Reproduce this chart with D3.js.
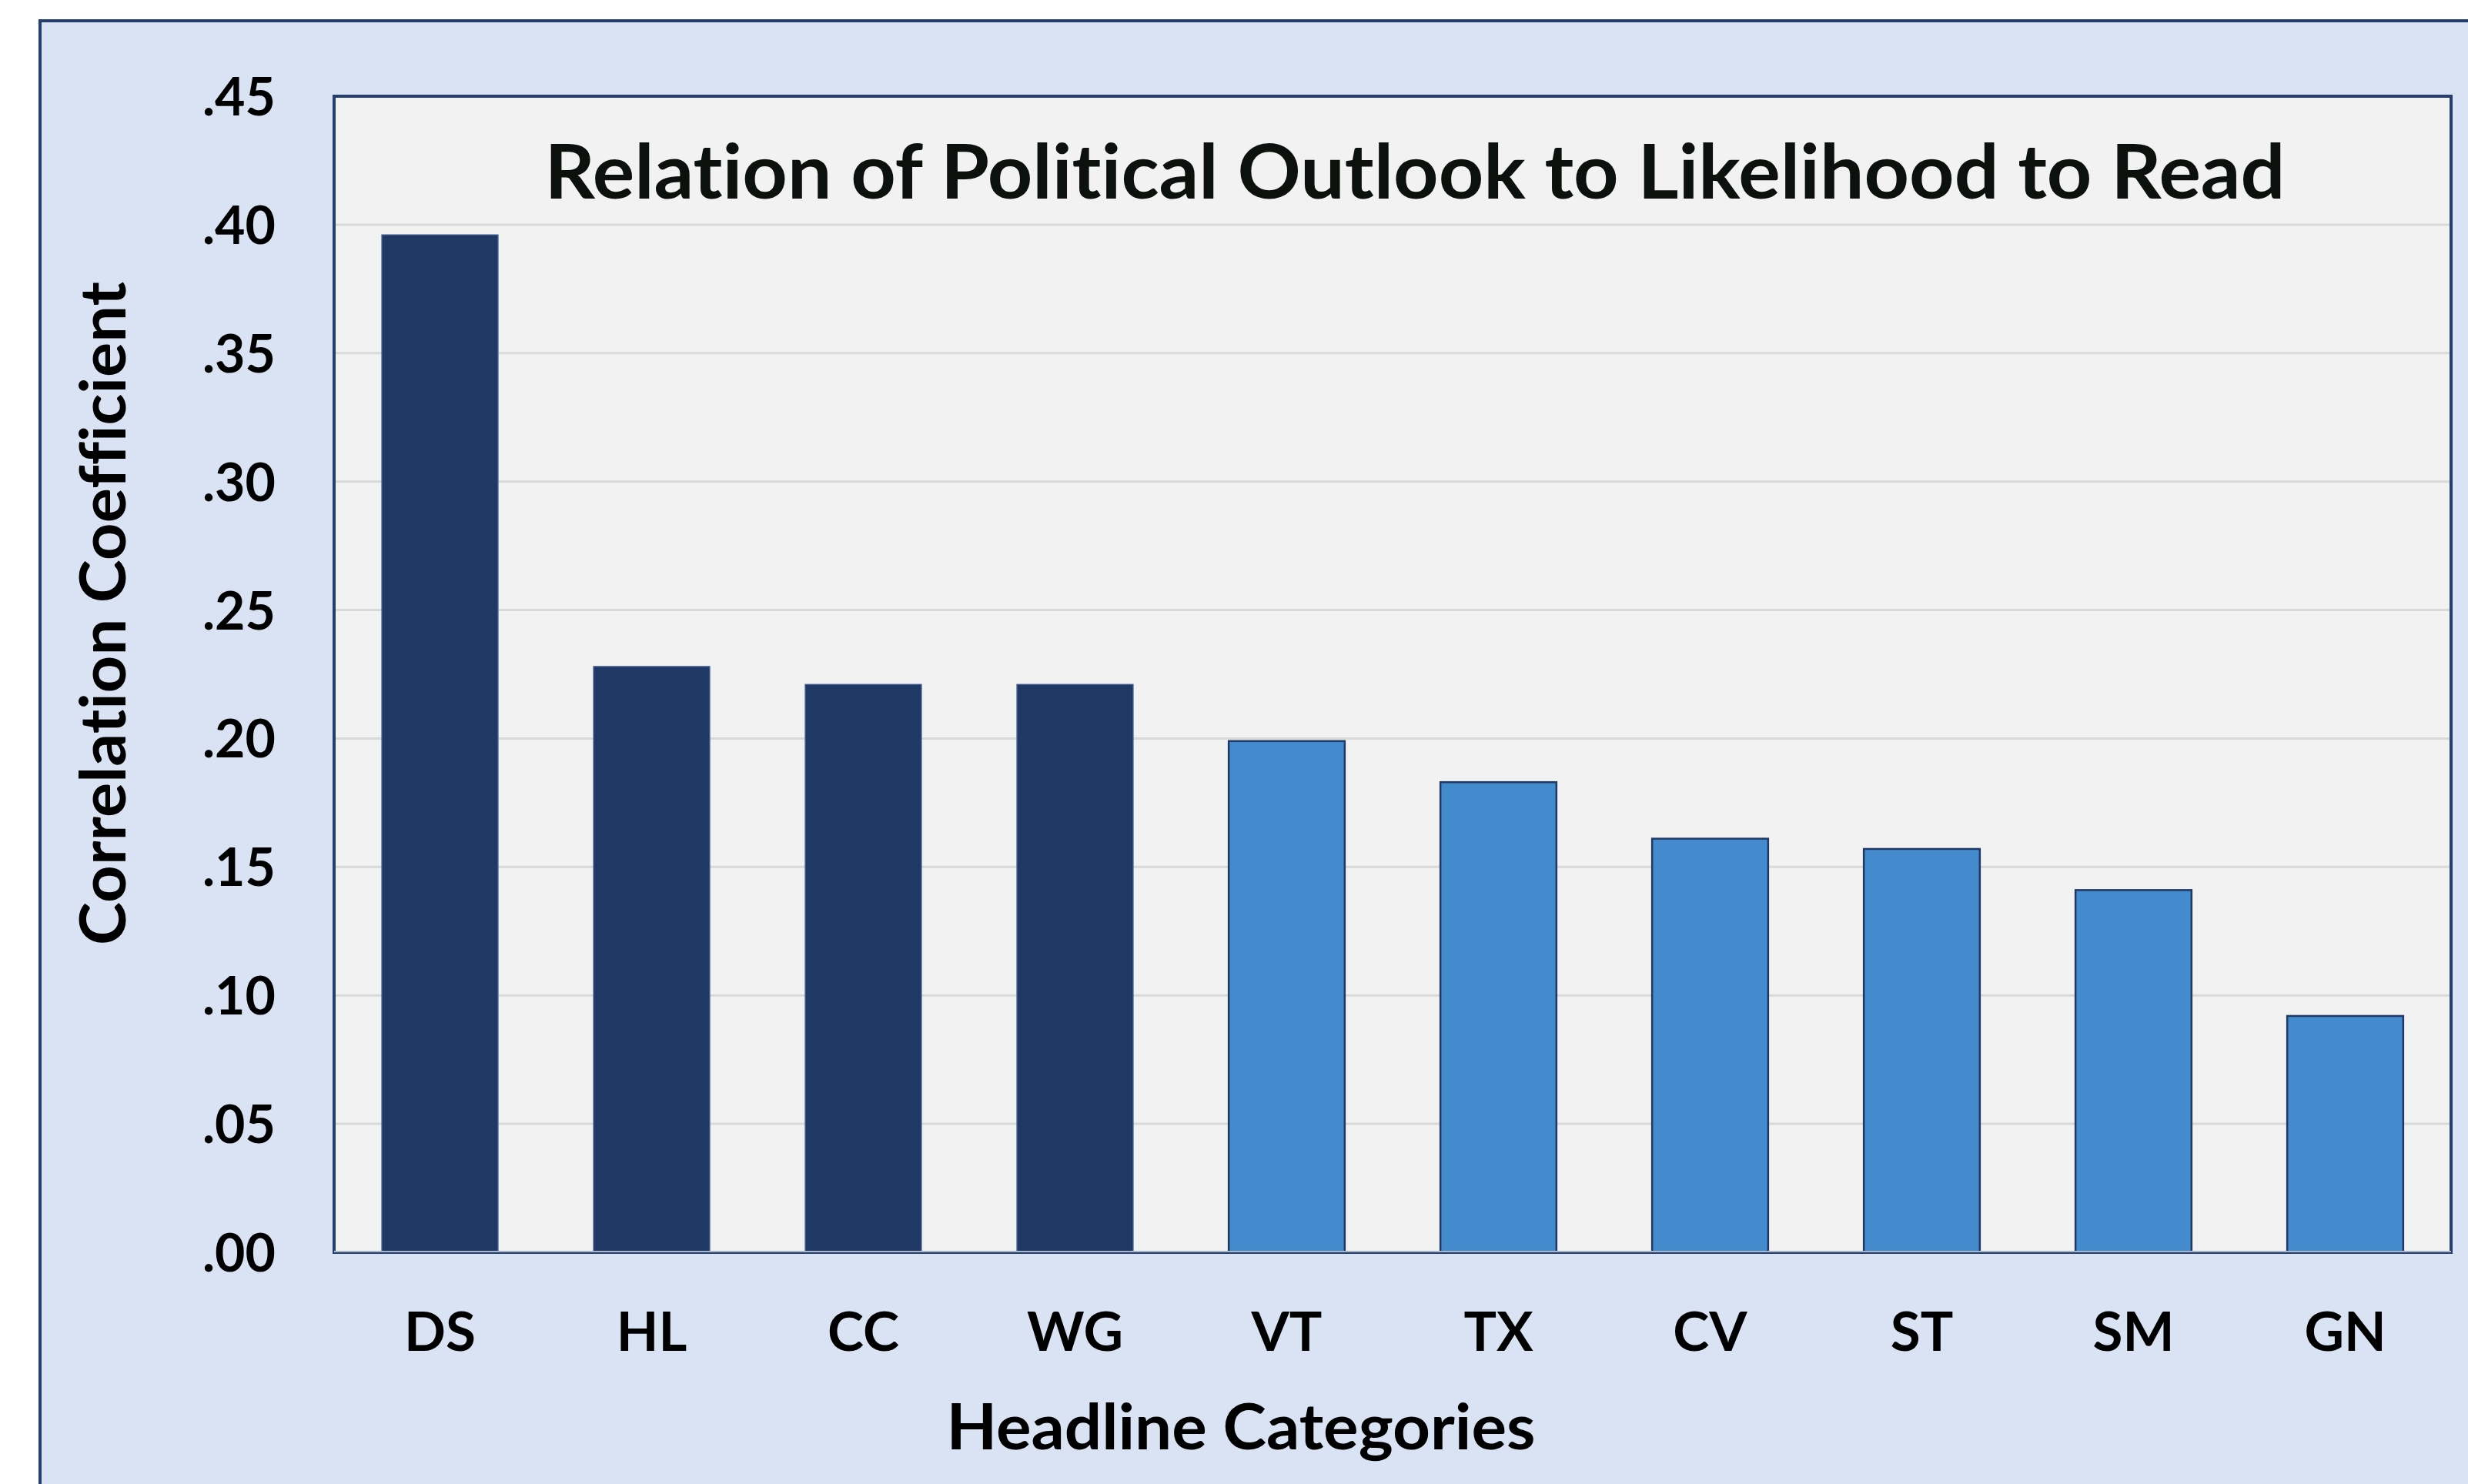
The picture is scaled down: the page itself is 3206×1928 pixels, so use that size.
<!DOCTYPE html>
<html>
<head>
<meta charset="utf-8">
<script src="https://cdn.jsdelivr.net/npm/d3@7"></script>
<style>
  html, body { margin: 0; padding: 0; background: #ffffff; }
  svg { display: block; }
  text { font-family: Lato, "Open Sans", "Noto Sans", sans-serif; font-weight: bold;
         font-variant-ligatures: none; font-feature-settings: "liga" 0, "clig" 0; }
</style>
</head>
<body>
<svg id="chart" width="3206" height="1928"></svg>
<script>
// ---- data ----
const categories = ["DS", "HL", "CC", "WG", "VT", "TX", "CV", "ST", "SM", "GN"];
const values = [0.396, 0.228, 0.221, 0.221, 0.199, 0.183, 0.161, 0.157, 0.141, 0.092];
const groups = ["dark", "dark", "dark", "dark", "light", "light", "light", "light", "light", "light"];
const yTicks = [0, 0.05, 0.10, 0.15, 0.20, 0.25, 0.30, 0.35, 0.40, 0.45];
const titleText = "Relation of Political Outlook to Likelihood to Read";
const xTitle = "Headline Categories";
const yTitle = "Correlation Coefficient";

// ---- layout ----
const W = 3206, H = 1928;
const plot = { left: 434, right: 3184, top: 125, bottom: 1627 };
const colors = { dark: "#203864", light: "#448BCE" };
const navy = "#243F6E";

const svg = d3.select("#chart");

// outer panel
svg.append("rect")
  .attr("x", 52).attr("y", 27)
  .attr("width", W + 100).attr("height", H + 100)
  .attr("fill", "#DAE3F3")
  .attr("stroke", navy).attr("stroke-width", 4);

// plot area background
svg.append("rect")
  .attr("x", plot.left).attr("y", plot.top)
  .attr("width", plot.right - plot.left).attr("height", plot.bottom - plot.top)
  .attr("fill", "#F2F2F2");

const x = d3.scaleBand()
  .domain(categories)
  .range([plot.left, plot.right])
  .paddingInner(0.452)
  .paddingOuter(0.226);

const y = d3.scaleLinear()
  .domain([0, 0.45])
  .range([plot.bottom, plot.top]);

// gridlines
svg.append("g")
  .selectAll("line")
  .data(yTicks.filter(d => d > 0))
  .join("line")
  .attr("x1", plot.left).attr("x2", plot.right)
  .attr("y1", d => y(d)).attr("y2", d => y(d))
  .attr("stroke", "#D9D9D9").attr("stroke-width", 3);

// bars
svg.append("g")
  .selectAll("rect")
  .data(categories)
  .join("rect")
  .attr("x", d => x(d))
  .attr("width", x.bandwidth())
  .attr("y", (d, i) => y(values[i]))
  .attr("height", (d, i) => y(0) - y(values[i]))
  .attr("fill", (d, i) => colors[groups[i]])
  .attr("stroke", (d, i) => groups[i] === "light" ? "#1F3864" : "#3A568A")
  .attr("stroke-width", (d, i) => groups[i] === "light" ? 2.5 : 1.5);

// plot border
svg.append("rect")
  .attr("x", plot.left).attr("y", plot.top)
  .attr("width", plot.right - plot.left).attr("height", plot.bottom - plot.top)
  .attr("fill", "none")
  .attr("stroke", navy).attr("stroke-width", 4);

// bottom axis line (lighter)
svg.append("line")
  .attr("x1", plot.left).attr("x2", plot.right)
  .attr("y1", plot.bottom - 1).attr("y2", plot.bottom - 1)
  .attr("stroke", "#A9B6C9").attr("stroke-width", 2);

// y axis
const yAxis = d3.axisLeft(y)
  .tickValues(yTicks)
  .tickSize(0)
  .tickPadding(76)
  .tickFormat(d => d3.format(".2f")(d).replace(/^0/, ""));
const gy = svg.append("g")
  .attr("transform", `translate(${plot.left},0)`)
  .call(yAxis);
gy.select(".domain").remove();
gy.selectAll("text")
  .attr("font-size", 68)
  .attr("font-family", "Lato, 'Open Sans', sans-serif")
  .attr("font-weight", "bold")
  .attr("fill", "#000")
  .attr("dy", "0.36em");

// x axis
const xAxis = d3.axisBottom(x).tickSize(0);
const gx = svg.append("g")
  .attr("transform", `translate(0,${plot.bottom})`)
  .call(xAxis);
gx.select(".domain").remove();
gx.selectAll("text")
  .attr("font-size", 71)
  .attr("font-family", "Lato, 'Open Sans', sans-serif")
  .attr("font-weight", "bold")
  .attr("fill", "#000")
  .attr("y", 128)
  .attr("dy", 0);

// title
svg.append("text")
  .attr("x", 1838).attr("y", 258)
  .attr("text-anchor", "middle")
  .attr("font-size", 98)
  .attr("textLength", 2261)
  .attr("lengthAdjust", "spacingAndGlyphs")
  .attr("fill", "#0D110E")
  .text(titleText);

// x axis title
svg.append("text")
  .attr("x", 1612).attr("y", 1883)
  .attr("text-anchor", "middle")
  .attr("font-size", 82)
  .attr("textLength", 765)
  .attr("lengthAdjust", "spacingAndGlyphs")
  .attr("fill", "#000")
  .text(xTitle);

// y axis title
svg.append("text")
  .attr("transform", "translate(163,797) rotate(-90)")
  .attr("text-anchor", "middle")
  .attr("font-size", 82)
  .attr("textLength", 862)
  .attr("lengthAdjust", "spacingAndGlyphs")
  .attr("fill", "#000")
  .text(yTitle);
</script>
</body>
</html>
